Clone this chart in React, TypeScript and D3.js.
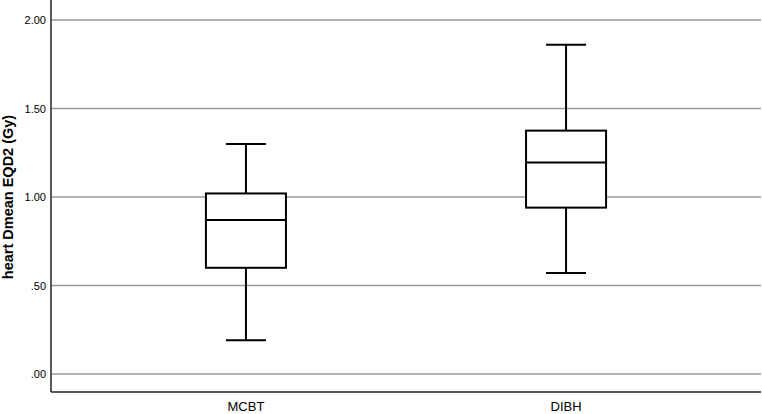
import React from "react";
import * as d3 from "d3";

const categories = ["MCBT", "DIBH"];
const whiskerLow = [0.19, 0.57];
const q1 = [0.6, 0.94];
const median = [0.87, 1.195];
const q3 = [1.02, 1.375];
const whiskerHigh = [1.3, 1.86];
const yTicks = [0, 0.5, 1.0, 1.5, 2.0];

const W = 762;
const H = 414;
const left = 51;
const right = 761;
const axisBottom = 392;

export default function App() {
  const y = d3.scaleLinear().domain([0, 2]).range([374, 20]);
  const x = d3.scalePoint<string>().domain(categories).range([left, right]).padding(0.609);
  const step = x.step();
  const boxW = step * 0.25;
  const capW = step * 0.125;
  const fmt = (v: number) => d3.format(".2f")(v).replace(/^0\./, ".");
  const font = "'Liberation Sans', Arial, sans-serif";

  return (
    <svg
      width={W}
      height={H}
      style={{ position: "absolute", left: 0, top: 0, background: "#fff" }}
      fontFamily={font}
    >
      <rect x={0} y={0} width={W} height={H} fill="#fff" />
      {yTicks.map((t) => (
        <g key={t}>
          <line x1={left} x2={right} y1={y(t)} y2={y(t)} stroke="#9a9a9a" strokeWidth={1.4} />
          <text x={46} y={y(t)} textAnchor="end" dominantBaseline="central" fontSize={11} fill="#000">
            {fmt(t)}
          </text>
        </g>
      ))}
      <line x1={left} x2={left} y1={0} y2={axisBottom} stroke="#222" strokeWidth={1.5} />
      <line x1={left} x2={right} y1={axisBottom} y2={axisBottom} stroke="#222" strokeWidth={1.5} />
      {categories.map((c, i) => {
        const cx = x(c) as number;
        return (
          <g key={c} stroke="#000" strokeWidth={2} fill="none">
            <line x1={cx} x2={cx} y1={y(whiskerHigh[i])} y2={y(q3[i])} />
            <line x1={cx} x2={cx} y1={y(q1[i])} y2={y(whiskerLow[i])} />
            <line x1={cx - capW / 2} x2={cx + capW / 2} y1={y(whiskerHigh[i])} y2={y(whiskerHigh[i])} />
            <line x1={cx - capW / 2} x2={cx + capW / 2} y1={y(whiskerLow[i])} y2={y(whiskerLow[i])} />
            <rect
              x={cx - boxW / 2}
              y={y(q3[i])}
              width={boxW}
              height={y(q1[i]) - y(q3[i])}
              fill="#fff"
            />
            <line x1={cx - boxW / 2} x2={cx + boxW / 2} y1={y(median[i])} y2={y(median[i])} />
            <text
              x={cx}
              y={411}
              textAnchor="middle"
              fontSize={13}
              fill="#000"
              stroke="none"
            >
              {c}
            </text>
          </g>
        );
      })}
      <text
        transform={`translate(13, 197) rotate(-90)`}
        textAnchor="middle"
        fontSize={14.5}
        fontWeight="bold"
        fill="#000"
      >
        heart Dmean EQD2 (Gy)
      </text>
    </svg>
  );
}
